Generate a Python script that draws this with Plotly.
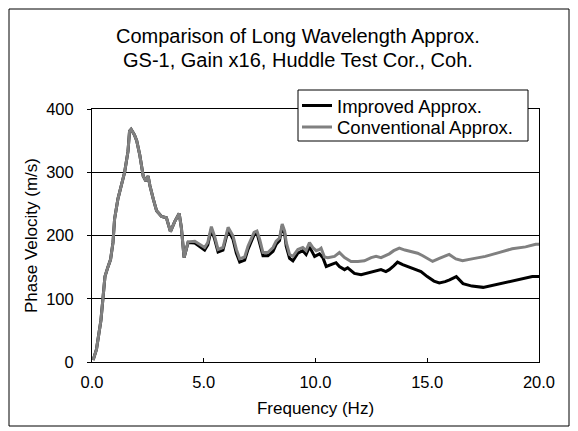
import plotly.graph_objects as go

# Conventional approximation (gray)
conv_f = [0.05, 0.2, 0.4, 0.5, 0.58, 0.71, 0.83, 0.94, 1.01, 1.16, 1.3, 1.46, 1.61, 1.68, 1.75, 1.9,
          2.0, 2.14, 2.29, 2.41, 2.51, 2.59, 2.74, 2.89, 3.11, 3.33, 3.51, 3.7, 3.9, 4.0, 4.12, 4.3,
          4.6, 4.82, 5.04, 5.18, 5.34, 5.49, 5.64, 5.86, 6.09, 6.31, 6.46, 6.61, 6.83, 6.98, 7.13,
          7.25, 7.38, 7.5, 7.65, 7.87, 8.1, 8.24, 8.39, 8.51, 8.62, 8.69, 8.84, 8.99, 9.21, 9.43,
          9.58, 9.73, 9.88, 10.03, 10.18, 10.25, 10.4, 10.55, 10.85, 11.07, 11.3, 11.59, 11.9,
          12.19, 12.49, 12.71, 12.93, 13.15, 13.3, 13.5, 13.75, 14.0, 14.2, 14.57, 14.8, 15.0,
          15.24, 15.54, 15.98, 16.28, 16.58, 17.0, 17.6, 18.2, 18.8, 19.4, 19.85, 20.0]
conv_v = [3, 20, 66, 110, 135, 150, 162, 189, 226, 258, 279, 300, 333, 365, 368, 359,
          350, 327, 294, 286, 294, 279, 258, 239, 230, 228, 206, 222, 235, 212, 165, 190,
          191, 186, 181, 189, 214, 198, 178, 181, 213, 199, 178, 163, 166, 183, 194,
          205, 207, 194, 173, 173, 181, 191, 196, 218, 207, 189, 170, 167, 178, 181,
          176, 189, 181, 176, 178, 180, 166, 165, 167, 173, 165, 159, 159,
          160, 165, 167, 165, 168, 171, 176, 180, 177, 175, 172, 168, 164,
          159, 164, 170, 163, 160, 163, 167, 173, 179, 182, 186, 186]

# Improved approximation (black)
impr_f = [0.05, 0.2, 0.4, 0.5, 0.58, 0.71, 0.83, 0.94, 1.01, 1.16, 1.3, 1.46, 1.61, 1.68, 1.75, 1.9,
          2.0, 2.14, 2.29, 2.41, 2.51, 2.59, 2.74, 2.89, 3.11, 3.33, 3.51, 3.7, 3.9, 4.0, 4.12, 4.3,
          4.6, 4.82, 5.04, 5.18, 5.34, 5.49, 5.64, 5.86, 6.09, 6.31, 6.46, 6.61, 6.83, 6.98, 7.13,
          7.25, 7.38, 7.5, 7.65, 7.87, 8.1, 8.24, 8.39, 8.51, 8.62, 8.69, 8.84, 8.99, 9.21, 9.43,
          9.58, 9.73, 9.88, 9.96, 10.18, 10.33, 10.48, 10.7, 10.92, 11.07, 11.3, 11.44, 11.74,
          12.04, 12.34, 12.63, 12.93, 13.15, 13.3, 13.5, 13.67, 13.9, 14.35, 14.72, 15.0, 15.3,
          15.54, 15.8, 16.0, 16.3, 16.6, 17.0, 17.5, 18.0, 18.5, 19.0, 19.5, 19.7, 20.0]
impr_v = [3, 20, 66, 110, 135, 150, 162, 189, 226, 258, 279, 300, 333, 365, 368, 359,
          350, 327, 294, 286, 294, 279, 258, 239, 230, 228, 206, 222, 235, 212, 165, 189,
          188, 182, 177, 185, 210, 194, 174, 177, 209, 194, 172, 158, 161, 178, 190,
          201, 204, 189, 168, 168, 175, 186, 192, 215, 203, 183, 164, 160, 172, 176,
          170, 182, 172, 167, 171, 165, 151, 154, 157, 151, 146, 149, 140,
          138, 141, 143, 146, 143, 146, 152, 158, 154, 148, 143, 135, 128,
          125, 127, 130, 135, 124, 120, 118, 122, 125, 130, 133, 135, 135]

x_ticks = [0, 5, 10, 15, 20]
y_ticks = [0, 100, 200, 300, 400]

FONT = "Liberation Sans"

fig = go.Figure()
fig.add_trace(go.Scatter(x=impr_f, y=impr_v, mode="lines", name="Improved Approx.",
                         line=dict(color="#000000", width=3), legend="legend"))
fig.add_trace(go.Scatter(x=conv_f, y=conv_v, mode="lines", name="Conventional Approx.",
                         line=dict(color="#808080", width=3), legend="legend2"))

L, R, T, B = 92, 539, 109, 362
W, H = 578, 431
pw, ph = R - L, B - T


def px(xp):
    return (xp - L) / pw


def py(yp):
    return (B - yp) / ph


legend_common = dict(xanchor="left", yanchor="middle", bgcolor="rgba(0,0,0,0)",
                     borderwidth=0, font=dict(family=FONT, size=18.5, color="black"),
                     itemwidth=30)

fig.update_layout(
    width=W, height=H,
    margin=dict(l=L, r=W - R, t=T, b=H - B, pad=0),
    paper_bgcolor="white", plot_bgcolor="white",
    font=dict(family=FONT, size=16.5, color="black"),
    showlegend=True,
    legend=dict(x=px(297), y=py(106), **legend_common),
    legend2=dict(x=px(297), y=py(127.5), **legend_common),
    xaxis=dict(range=[0, 20], tickvals=x_ticks, tickformat=".1f",
               ticks="inside", ticklen=4, tickcolor="black",
               showline=True, linecolor="black", linewidth=1, mirror=True,
               showgrid=False, zeroline=False, ticklabelstandoff=5,
               title=dict(text="Frequency (Hz)", font=dict(size=17), standoff=12),
               tickfont=dict(size=16.5)),
    yaxis=dict(range=[0, 400], tickvals=y_ticks,
               ticks="outside", ticklen=4, tickcolor="black",
               showline=True, linecolor="black", linewidth=1, mirror=True,
               showgrid=True, gridcolor="#000000", gridwidth=1, zeroline=False,
               ticklabelstandoff=10,
               title=dict(text="Phase Velocity (m/s)", font=dict(size=17), standoff=4),
               tickfont=dict(size=16.5)),
    annotations=[
        dict(text="Comparison of Long Wavelength Approx.", x=px(298), y=py(36),
             xref="paper", yref="paper", showarrow=False, xanchor="center", yanchor="middle",
             font=dict(family=FONT, size=20, color="black")),
        dict(text="GS-1, Gain x16, Huddle Test Cor., Coh.", x=px(298), y=py(60),
             xref="paper", yref="paper", showarrow=False, xanchor="center", yanchor="middle",
             font=dict(family=FONT, size=20, color="black")),
    ],
    shapes=[
        dict(type="rect", xref="paper", yref="paper",
             x0=px(9), x1=px(569), y0=py(426), y1=py(9),
             line=dict(color="black", width=1), fillcolor="rgba(0,0,0,0)", layer="above"),
        dict(type="rect", xref="paper", yref="paper",
             x0=px(298), x1=px(528), y0=py(141), y1=py(90),
             line=dict(color="black", width=1), fillcolor="white", layer="above"),
    ],
)

fig.write_html("out.html", config={"displayModeBar": False},
               post_script="document.body.style.margin='0';document.body.style.overflow='hidden';")
